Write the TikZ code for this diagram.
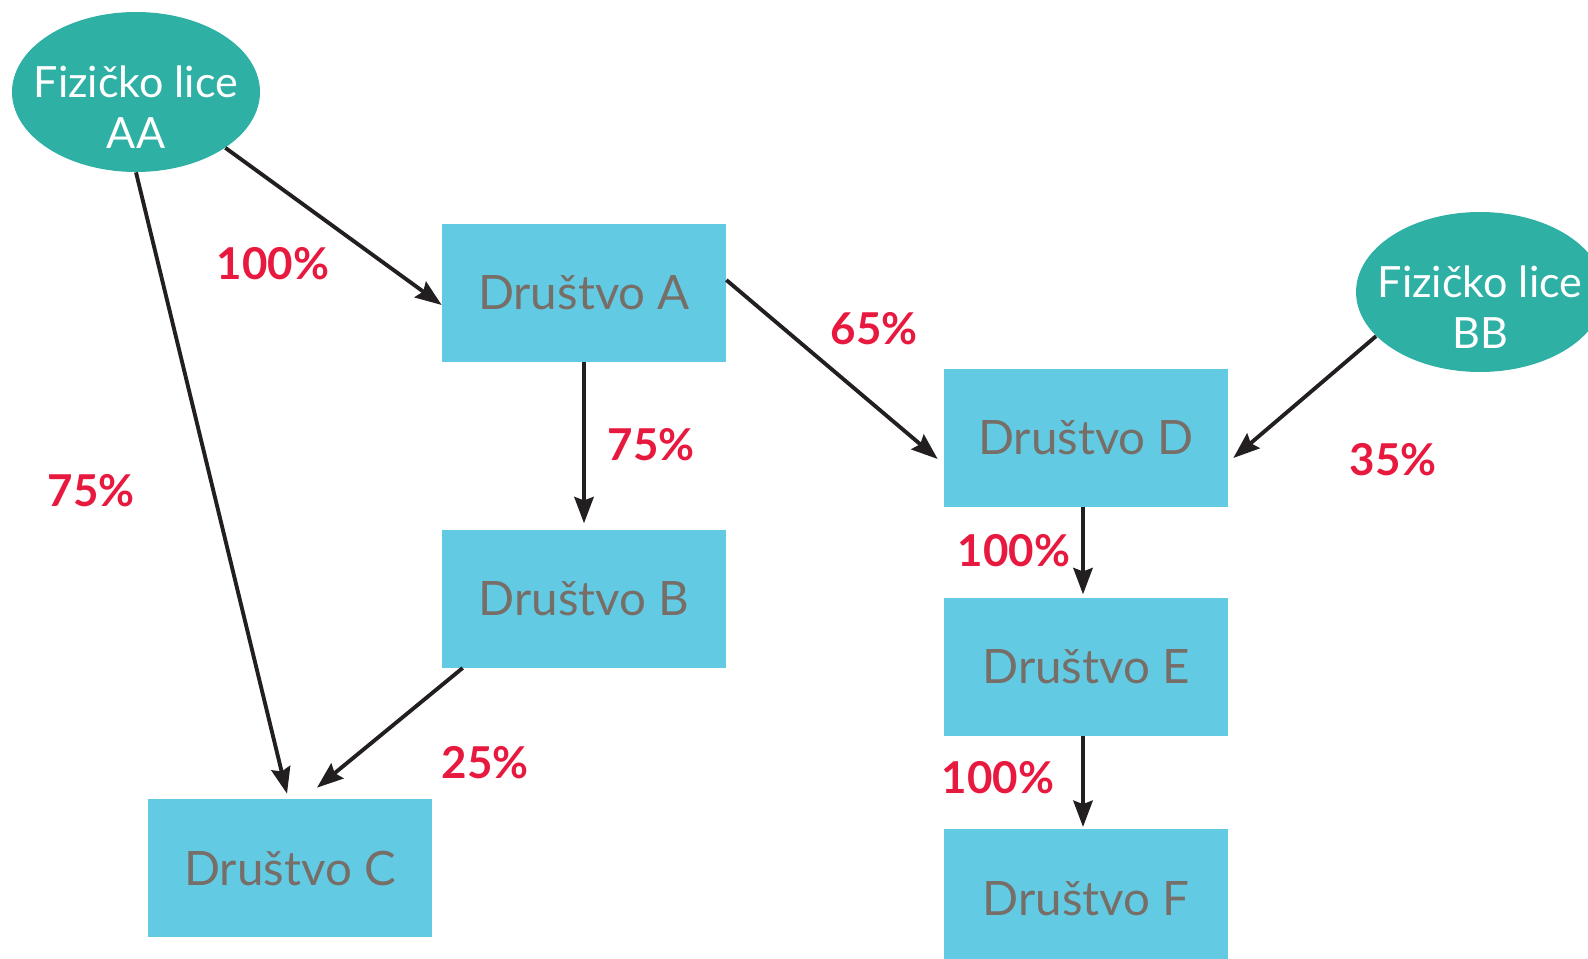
\documentclass[tikz,border=0pt]{standalone}
\usepackage{fontspec}
\setmainfont{Lato}
\usetikzlibrary{positioning,shapes.geometric,arrows.meta}
\definecolor{licecol}{HTML}{2FB0A4}
\definecolor{drustvocol}{HTML}{62CAE3}
\definecolor{tekstcol}{HTML}{786E68}
\definecolor{udiocol}{HTML}{E8193F}
\definecolor{vezacol}{HTML}{231F20}

\begin{document}
\begin{tikzpicture}[x=0.02cm,y=-0.02cm,
		lice/.style={ellipse,fill=licecol,text=white,inner xsep=-0.3cm,inner ysep=0pt,minimum width=4.96cm,minimum height=3.2cm,text height=64pt,text depth=0pt,align=center,font=\fontsize{24.5}{29}\selectfont},
		drustvo/.style={rectangle,fill=drustvocol,text=tekstcol,inner sep=0pt,minimum width=5.68cm,minimum height=2.76cm,font=\fontsize{27}{32}\selectfont},
		udio/.style={text=udiocol,font=\fontsize{25}{30}\selectfont\bfseries},
		veza/.style={draw=vezacol,line width=2.2pt,-{Stealth[length=15pt,width=11pt,inset=2pt]}}]
		\useasboundingbox (0,0) rectangle (1588,959);
		\clip (0,0) rectangle (1588,959);

		\node[lice]										(aa)	at (136,92)	{Fizičko lice\\AA};
		\node[lice]										(bb)	at (1480,292)	{Fizičko lice\\BB};
		\node[drustvo]									(a)		at (584,293)	{Društvo A};
		\node[drustvo,node distance=3.34cm,below=of a]	(b)		{Društvo B};
		\node[drustvo]									(c)		at (290,868)	{Društvo C};
		\node[drustvo]									(d)		at (1086,438)	{Društvo D};
		\node[drustvo,node distance=1.8cm,below=of d]	(e)		{Društvo E};
		\node[drustvo,node distance=1.86cm,below=of e]	(f)		{Društvo F};

		\node[udio]	(aa-a)	at (273,264)	{100\%};
		\node[udio]	(aa-c)	at (91,491)		{75\%};
		\node[udio]	(a-b)	at (651,445)	{75\%};
		\node[udio]	(b-c)	at (485,763)	{25\%};
		\node[udio]	(a-d)	at (874,329)	{65\%};
		\node[udio]	(bb-d)	at (1393,460)	{35\%};
		\node[udio]	(d-e)	at (1014,551)	{100\%};
		\node[udio]	(e-f)	at (998,778)	{100\%};

		\draw[veza] (aa.-32) -- ([yshift=-0.24cm]a.west);
		\draw[veza] (aa.south) -- ([xshift=-0.06cm,yshift=0.1cm]c.north);
		\draw[veza] (a.south) -- ([yshift=0.12cm]b.north);
		\draw[veza] ([xshift=0.42cm]b.south west) -- ([xshift=0.54cm,yshift=0.22cm]c.north);
		\draw[veza] ([yshift=0.26cm]a.east) -- ([xshift=-0.12cm,yshift=-0.42cm]d.west);
		\draw[veza] (bb.203) -- ([xshift=0.1cm,yshift=-0.4cm]d.east);
		\draw[veza] ([xshift=-0.06cm]d.south) -- ([xshift=-0.06cm,yshift=0.06cm]e.north);
		\draw[veza] ([xshift=-0.06cm]e.south) -- ([xshift=-0.06cm,yshift=0.04cm]f.north);
	\end{tikzpicture}
\end{document}
